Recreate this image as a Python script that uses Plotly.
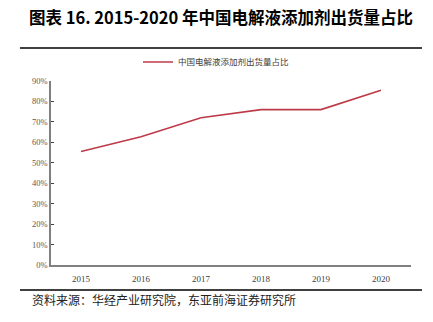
import plotly.graph_objects as go

years = ["2015", "2016", "2017", "2018", "2019", "2020"]
share = [0.555, 0.627, 0.72, 0.76, 0.76, 0.855]
y_ticks = [0, 0.1, 0.2, 0.3, 0.4, 0.5, 0.6, 0.7, 0.8, 0.9]
y_tick_labels = ["0%", "10%", "20%", "30%", "40%", "50%", "60%", "70%", "80%", "90%"]
series_name = "中国电解液添加剂出货量占比"
title_text = "图表 16. 2015-2020 年中国电解液添加剂出货量占比"
source_text = "资料来源：华经产业研究院，东亚前海证券研究所"

W, H = 433, 322
L, R, T, B = 51, 411, 81, 265

def px(x):
    return (x - L) / (R - L)

def py(y):
    return (B - y) / (B - T)

fig = go.Figure()
fig.add_trace(go.Scatter(
    x=years, y=share, mode="lines", name=series_name,
    line=dict(color="#be3a48", width=1.6),
))

fig.update_layout(
    width=W, height=H,
    margin=dict(l=L, r=W - R, t=T, b=H - B),
    paper_bgcolor="white", plot_bgcolor="white",
    showlegend=True,
    legend=dict(
        orientation="h", x=px(216), y=py(62), xanchor="center", yanchor="middle",
        font=dict(family="Noto Sans CJK SC", size=8.5, color="#404040"),
        bgcolor="rgba(0,0,0,0)", itemwidth=30,
    ),
    xaxis=dict(
        type="category", range=[-0.5, 5.5],
        showline=True, linecolor="#808080", linewidth=2,
        ticks="", showgrid=False, zeroline=False,
        tickfont=dict(family="Liberation Serif", size=9, color="#404040"),
        ticklabelstandoff=4,
    ),
    yaxis=dict(
        range=[0, 0.9], tickvals=y_ticks, ticktext=y_tick_labels,
        showline=True, linecolor="#808080", linewidth=1.5,
        ticks="inside", ticklen=3, tickcolor="#404040", tickwidth=1,
        showgrid=False, zeroline=False,
        tickfont=dict(family="Liberation Serif", size=8.5, color="#595959"),
    ),
    shapes=[
        dict(type="line", xref="paper", yref="paper", x0=px(20), x1=px(422),
             y0=py(48), y1=py(48), line=dict(color="black", width=1.5)),
        dict(type="line", xref="paper", yref="paper", x0=px(20), x1=px(422),
             y0=py(290), y1=py(290), line=dict(color="black", width=1.5)),
    ],
    annotations=[
        dict(text="<b>" + title_text + "</b>", xref="paper", yref="paper",
             x=px(221), y=py(17), xanchor="center", yanchor="middle", showarrow=False,
             font=dict(family="Noto Sans CJK SC", size=16.5, color="black")),
        dict(text=source_text, xref="paper", yref="paper",
             x=px(30), y=py(299), xanchor="left", yanchor="middle", showarrow=False,
             font=dict(family="Noto Sans CJK SC", size=12, color="#222222")),
    ],
)

fig.write_html("out.html")
